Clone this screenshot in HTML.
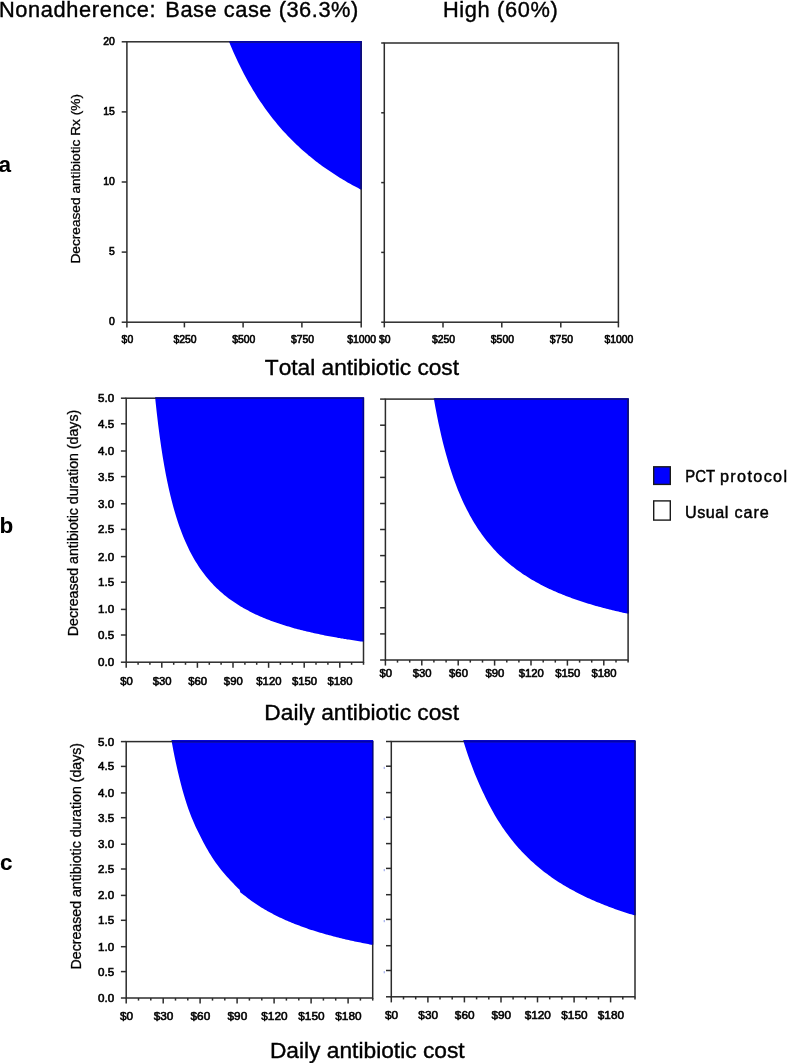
<!DOCTYPE html>
<html><head><meta charset="utf-8"><title>Figure</title>
<style>
html,body{margin:0;padding:0;background:#fff;}
body{width:787px;height:1063px;overflow:hidden;font-family:"Liberation Sans",sans-serif;}
svg{display:block;}
text{fill:#000;font-kerning:none;font-variant-ligatures:none;}
</style></head><body>
<svg width="787" height="1063" viewBox="0 0 787 1063">
<rect x="0" y="0" width="787" height="1063" fill="#fff"/>
<defs><filter id="soft" x="-5%" y="-5%" width="110%" height="110%"><feGaussianBlur stdDeviation="0.35"/></filter></defs>
<polygon points="229.1,41.8 230.6,45.4 232.1,49.0 233.6,52.4 235.1,55.7 236.6,59.0 238.1,62.2 239.6,65.3 241.1,68.3 242.6,71.3 244.1,74.2 245.6,77.0 247.1,79.8 248.6,82.4 250.1,85.1 251.6,87.6 253.1,90.2 254.6,92.6 256.1,95.0 257.6,97.4 259.1,99.7 260.6,101.9 262.1,104.1 263.6,106.3 265.1,108.4 266.6,110.5 268.1,112.5 269.6,114.5 271.1,116.5 272.6,118.4 274.1,120.3 275.6,122.1 277.1,123.9 278.6,125.7 280.1,127.5 281.6,129.2 283.1,130.9 284.6,132.5 286.1,134.1 287.6,135.7 289.1,137.3 290.6,138.8 292.1,140.3 293.6,141.8 295.1,143.3 296.6,144.7 298.1,146.1 299.6,147.5 301.1,148.9 302.6,150.2 304.1,151.5 305.6,152.8 307.1,154.1 308.6,155.4 310.1,156.6 311.6,157.8 313.1,159.0 314.6,160.2 316.1,161.4 317.6,162.5 319.1,163.7 320.6,164.8 322.1,165.9 323.6,167.0 325.1,168.0 326.6,169.1 328.1,170.1 329.6,171.1 331.1,172.1 332.6,173.1 334.1,174.1 335.6,175.1 337.1,176.0 338.6,177.0 340.1,177.9 341.6,178.8 343.1,179.7 344.6,180.6 346.1,181.5 347.6,182.4 349.1,183.2 350.6,184.1 352.1,184.9 353.6,185.7 355.1,186.5 356.6,187.3 358.1,188.1 359.6,188.9 361.1,189.7 361.2,189.7 361.6,189.7 361.6,41.3 228.8,41.3" fill="#0000ff"/>
<rect x="126.9" y="41.8" width="234.3" height="280.4" fill="none" stroke="#2c2c2c" stroke-width="1.5"/>
<rect x="229.6" y="41.1" width="132.1" height="1.3" fill="#0000b0"/>
<rect x="360.5" y="41.8" width="1.2" height="147.4" fill="#000098"/>
<rect x="384.3" y="43.0" width="234.1" height="279.2" fill="none" stroke="#2c2c2c" stroke-width="1.5"/>
<polygon points="155.2,398.2 156.7,412.3 158.2,425.0 159.7,436.5 161.2,447.1 162.7,456.7 164.2,465.5 165.7,473.7 167.2,481.2 168.7,488.2 170.2,494.7 171.7,500.8 173.2,506.5 174.7,511.8 176.2,516.8 177.7,521.5 179.2,525.9 180.7,530.1 182.2,534.0 183.7,537.7 185.2,541.3 186.7,544.6 188.2,547.8 189.7,550.9 191.2,553.8 192.7,556.5 194.2,559.2 195.7,561.7 197.2,564.1 198.7,566.4 200.2,568.7 201.7,570.8 203.2,572.8 204.7,574.8 206.2,576.7 207.7,578.5 209.2,580.3 210.7,582.0 212.2,583.6 213.7,585.2 215.2,586.7 216.7,588.2 218.2,589.6 219.7,591.0 221.2,592.3 222.7,593.6 224.2,594.9 225.7,596.1 227.2,597.2 228.7,598.4 230.2,599.5 231.7,600.6 233.2,601.6 234.7,602.6 236.2,603.6 237.7,604.6 239.2,605.5 240.7,606.4 242.2,607.3 243.7,608.2 245.2,609.0 246.7,609.8 248.2,610.6 249.7,611.4 251.2,612.2 252.7,612.9 254.2,613.7 255.7,614.4 257.2,615.1 258.7,615.7 260.2,616.4 261.7,617.1 263.2,617.7 264.7,618.3 266.2,618.9 267.7,619.5 269.2,620.1 270.7,620.7 272.2,621.2 273.7,621.8 275.2,622.3 276.7,622.8 278.2,623.3 279.7,623.8 281.2,624.3 282.7,624.8 284.2,625.3 285.7,625.7 287.2,626.2 288.7,626.6 290.2,627.1 291.7,627.5 293.2,627.9 294.7,628.4 296.2,628.8 297.7,629.2 299.2,629.6 300.7,630.0 302.2,630.3 303.7,630.7 305.2,631.1 306.7,631.4 308.2,631.8 309.7,632.1 311.2,632.5 312.7,632.8 314.2,633.2 315.7,633.5 317.2,633.8 318.7,634.1 320.2,634.4 321.7,634.8 323.2,635.1 324.7,635.4 326.2,635.7 327.7,635.9 329.2,636.2 330.7,636.5 332.2,636.8 333.7,637.1 335.2,637.3 336.7,637.6 338.2,637.9 339.7,638.1 341.2,638.4 342.7,638.6 344.2,638.9 345.7,639.1 347.2,639.4 348.7,639.6 350.2,639.8 351.7,640.1 353.2,640.3 354.7,640.5 356.2,640.7 357.7,641.0 359.2,641.2 360.7,641.4 362.2,641.6 363.5,641.8 363.9,641.8 363.9,397.3 154.9,397.3" fill="#0000ff"/>
<rect x="126.2" y="398.2" width="237.3" height="264.0" fill="none" stroke="#2c2c2c" stroke-width="1.5"/>
<rect x="155.7" y="397.5" width="208.3" height="1.3" fill="#0000b0"/>
<rect x="362.8" y="398.2" width="1.2" height="243.1" fill="#000098"/>
<polygon points="433.9,399.1 435.4,407.4 436.9,415.3 438.4,422.7 439.9,429.6 441.4,436.2 442.9,442.4 444.4,448.3 445.9,453.8 447.4,459.1 448.9,464.2 450.4,469.0 451.9,473.5 453.4,477.9 454.9,482.1 456.4,486.1 457.9,489.9 459.4,493.5 460.9,497.1 462.4,500.4 463.9,503.7 465.4,506.8 466.9,509.8 468.4,512.6 469.9,515.4 471.4,518.1 472.9,520.7 474.4,523.2 475.9,525.6 477.4,527.9 478.9,530.2 480.4,532.3 481.9,534.5 483.4,536.5 484.9,538.5 486.4,540.4 487.9,542.3 489.4,544.1 490.9,545.8 492.4,547.5 493.9,549.2 495.4,550.8 496.9,552.4 498.4,553.9 499.9,555.4 501.4,556.8 502.9,558.2 504.4,559.6 505.9,560.9 507.4,562.2 508.9,563.5 510.4,564.7 511.9,565.9 513.4,567.1 514.9,568.3 516.4,569.4 517.9,570.5 519.4,571.6 520.9,572.6 522.4,573.7 523.9,574.7 525.4,575.6 526.9,576.6 528.4,577.6 529.9,578.5 531.4,579.4 532.9,580.3 534.4,581.1 535.9,582.0 537.4,582.8 538.9,583.6 540.4,584.4 541.9,585.2 543.4,586.0 544.9,586.7 546.4,587.5 547.9,588.2 549.4,588.9 550.9,589.6 552.4,590.3 553.9,591.0 555.4,591.6 556.9,592.3 558.4,592.9 559.9,593.5 561.4,594.1 562.9,594.8 564.4,595.3 565.9,595.9 567.4,596.5 568.9,597.1 570.4,597.6 571.9,598.2 573.4,598.7 574.9,599.3 576.4,599.8 577.9,600.3 579.4,600.8 580.9,601.3 582.4,601.8 583.9,602.3 585.4,602.7 586.9,603.2 588.4,603.7 589.9,604.1 591.4,604.6 592.9,605.0 594.4,605.4 595.9,605.9 597.4,606.3 598.9,606.7 600.4,607.1 601.9,607.5 603.4,607.9 604.9,608.3 606.4,608.7 607.9,609.1 609.4,609.5 610.9,609.8 612.4,610.2 613.9,610.6 615.4,610.9 616.9,611.3 618.4,611.6 619.9,612.0 621.4,612.3 622.9,612.7 624.4,613.0 625.9,613.3 627.4,613.6 628.1,613.8 628.5,613.8 628.5,398.2 433.6,398.2" fill="#0000ff"/>
<rect x="385.4" y="399.1" width="242.7" height="260.9" fill="none" stroke="#2c2c2c" stroke-width="1.5"/>
<rect x="434.4" y="398.4" width="194.2" height="1.3" fill="#0000b0"/>
<rect x="627.4" y="399.1" width="1.2" height="214.2" fill="#000098"/>
<polygon points="171.7,741.6 173.2,749.7 174.7,757.2 176.2,764.3 177.7,771.0 179.2,777.3 180.7,783.2 182.2,788.9 183.7,794.2 185.2,799.2 186.7,804.0 188.2,808.5 189.7,812.6 191.2,816.4 192.7,820.1 194.2,823.6 195.7,826.9 197.2,830.1 198.7,833.1 200.2,836.0 201.7,839.1 203.2,842.0 204.7,844.8 206.2,847.5 207.7,850.1 209.2,852.7 210.7,855.1 212.2,857.4 213.7,859.7 215.2,861.9 216.7,864.0 218.2,866.0 219.7,868.0 221.2,869.9 222.7,871.7 224.2,873.5 225.7,875.3 227.2,876.9 228.7,878.6 230.2,880.2 231.7,881.7 233.2,883.3 234.7,884.9 236.2,886.4 237.7,887.9 239.6,889.7 240.4,892.5 242.2,893.7 243.7,894.9 245.2,896.1 246.7,897.3 248.2,898.5 249.7,899.6 251.2,900.7 252.7,901.8 254.2,902.8 255.7,903.8 257.2,904.8 258.7,905.8 260.2,906.7 261.7,907.7 263.2,908.6 264.7,909.5 266.2,910.3 267.7,911.2 269.2,912.0 270.7,912.8 272.2,913.6 273.7,914.4 275.2,915.2 276.7,915.9 278.2,916.7 279.7,917.4 281.2,918.1 282.7,918.8 284.2,919.5 285.7,920.2 287.2,920.8 288.7,921.5 290.2,922.1 291.7,922.7 293.2,923.3 294.7,923.9 296.2,924.5 297.7,925.1 299.2,925.6 300.7,926.2 302.2,926.8 303.7,927.3 305.2,927.8 306.7,928.3 308.2,928.9 309.7,929.4 311.2,929.9 312.7,930.3 314.2,930.8 315.7,931.3 317.2,931.8 318.7,932.2 320.2,932.7 321.7,933.1 323.2,933.5 324.7,934.0 326.2,934.4 327.7,934.8 329.2,935.2 330.7,935.6 332.2,936.0 333.7,936.4 335.2,936.8 336.7,937.2 338.2,937.6 339.7,937.9 341.2,938.3 342.7,938.7 344.2,939.0 345.7,939.4 347.2,939.7 348.7,940.1 350.2,940.4 351.7,940.7 353.2,941.1 354.7,941.4 356.2,941.7 357.7,942.0 359.2,942.3 360.7,942.6 362.2,942.9 363.7,943.2 365.2,943.5 366.7,943.8 368.2,944.1 369.7,944.4 371.2,944.7 372.7,945.0 373.1,945.0 373.1,740.0 171.4,740.0" fill="#0000ff"/>
<rect x="126.2" y="741.6" width="246.5" height="256.4" fill="none" stroke="#2c2c2c" stroke-width="1.5"/>
<rect x="172.2" y="740.9" width="201.0" height="1.3" fill="#0000b0"/>
<rect x="372.0" y="741.6" width="1.2" height="202.9" fill="#000098"/>
<polygon points="463.5,741.5 465.1,746.6 466.7,751.5 468.3,756.2 469.9,760.8 471.5,765.1 473.1,769.3 474.7,773.4 476.3,777.3 477.9,781.0 479.4,784.6 481.0,788.1 482.6,791.5 484.2,794.8 485.7,797.9 487.2,801.0 488.7,803.9 490.2,806.8 491.7,809.6 493.2,812.3 494.7,814.9 496.2,817.4 497.7,819.9 499.2,822.3 500.7,824.6 502.2,826.9 503.7,829.1 505.2,831.2 506.7,833.3 508.2,835.3 509.7,837.3 511.2,839.2 512.7,841.1 514.2,842.9 515.7,844.7 517.2,846.5 518.7,848.2 520.2,849.8 521.7,851.4 523.2,853.0 524.7,854.6 526.2,856.1 527.7,857.6 529.2,859.0 530.7,860.4 532.2,861.8 533.7,863.1 535.2,864.5 536.7,865.8 538.2,867.0 539.7,868.3 541.2,869.5 542.7,870.7 544.2,871.9 545.7,873.0 547.2,874.1 548.7,875.2 550.2,876.3 551.7,877.4 553.2,878.4 554.7,879.4 556.2,880.4 557.7,881.4 559.2,882.4 560.7,883.3 562.2,884.3 563.7,885.2 565.2,886.1 566.7,886.9 568.2,887.8 569.7,888.7 571.2,889.5 572.7,890.3 574.2,891.1 575.7,891.9 577.2,892.7 578.7,893.5 580.2,894.3 581.7,895.0 583.2,895.7 584.7,896.5 586.2,897.2 587.7,897.9 589.2,898.6 590.7,899.2 592.2,899.9 593.7,900.6 595.2,901.2 596.7,901.9 598.2,902.5 599.7,903.1 601.2,903.7 602.7,904.3 604.2,904.9 605.7,905.5 607.2,906.1 608.7,906.7 610.2,907.2 611.7,907.8 613.2,908.3 614.7,908.9 616.2,909.4 617.7,909.9 619.2,910.4 620.7,910.9 622.2,911.5 623.7,911.9 625.2,912.4 626.7,912.9 628.2,913.4 629.7,913.9 631.2,914.3 632.7,914.8 634.2,915.3 635.0,915.5 635.4,915.5 635.4,739.9 463.2,739.9" fill="#0000ff"/>
<rect x="391.3" y="741.5" width="243.7" height="255.3" fill="none" stroke="#2c2c2c" stroke-width="1.5"/>
<rect x="464.0" y="740.8" width="171.5" height="1.3" fill="#0000b0"/>
<rect x="634.3" y="741.5" width="1.2" height="173.5" fill="#000098"/>
<line x1="121.7" y1="322.2" x2="126.9" y2="322.2" stroke="#2c2c2c" stroke-width="1.5"/>
<line x1="121.7" y1="252.1" x2="126.9" y2="252.1" stroke="#2c2c2c" stroke-width="1.5"/>
<line x1="121.7" y1="182.0" x2="126.9" y2="182.0" stroke="#2c2c2c" stroke-width="1.5"/>
<line x1="121.7" y1="111.9" x2="126.9" y2="111.9" stroke="#2c2c2c" stroke-width="1.5"/>
<line x1="121.7" y1="41.8" x2="126.9" y2="41.8" stroke="#2c2c2c" stroke-width="1.5"/>
<line x1="126.9" y1="322.2" x2="126.9" y2="327.4" stroke="#2c2c2c" stroke-width="1.5"/>
<line x1="184.4" y1="322.2" x2="184.4" y2="327.4" stroke="#2c2c2c" stroke-width="1.5"/>
<line x1="243.1" y1="322.2" x2="243.1" y2="327.4" stroke="#2c2c2c" stroke-width="1.5"/>
<line x1="301.9" y1="322.2" x2="301.9" y2="327.4" stroke="#2c2c2c" stroke-width="1.5"/>
<line x1="361.2" y1="322.2" x2="361.2" y2="327.4" stroke="#2c2c2c" stroke-width="1.5"/>
<line x1="381.2" y1="322.2" x2="384.3" y2="322.2" stroke="#2c2c2c" stroke-width="1.5"/>
<line x1="381.2" y1="252.4" x2="384.3" y2="252.4" stroke="#2c2c2c" stroke-width="1.5"/>
<line x1="381.2" y1="182.6" x2="384.3" y2="182.6" stroke="#2c2c2c" stroke-width="1.5"/>
<line x1="381.2" y1="112.8" x2="384.3" y2="112.8" stroke="#2c2c2c" stroke-width="1.5"/>
<line x1="381.2" y1="43.0" x2="384.3" y2="43.0" stroke="#2c2c2c" stroke-width="1.5"/>
<line x1="384.3" y1="322.2" x2="384.3" y2="327.4" stroke="#2c2c2c" stroke-width="1.5"/>
<line x1="443.0" y1="322.2" x2="443.0" y2="327.4" stroke="#2c2c2c" stroke-width="1.5"/>
<line x1="501.8" y1="322.2" x2="501.8" y2="327.4" stroke="#2c2c2c" stroke-width="1.5"/>
<line x1="560.8" y1="322.2" x2="560.8" y2="327.4" stroke="#2c2c2c" stroke-width="1.5"/>
<line x1="618.4" y1="322.2" x2="618.4" y2="327.4" stroke="#2c2c2c" stroke-width="1.5"/>
<line x1="120.9" y1="662.2" x2="126.2" y2="662.2" stroke="#2c2c2c" stroke-width="1.5"/>
<line x1="120.9" y1="635.0" x2="126.2" y2="635.0" stroke="#2c2c2c" stroke-width="1.5"/>
<line x1="120.9" y1="609.4" x2="126.2" y2="609.4" stroke="#2c2c2c" stroke-width="1.5"/>
<line x1="120.9" y1="582.2" x2="126.2" y2="582.2" stroke="#2c2c2c" stroke-width="1.5"/>
<line x1="120.9" y1="556.6" x2="126.2" y2="556.6" stroke="#2c2c2c" stroke-width="1.5"/>
<line x1="120.9" y1="529.4" x2="126.2" y2="529.4" stroke="#2c2c2c" stroke-width="1.5"/>
<line x1="120.9" y1="503.8" x2="126.2" y2="503.8" stroke="#2c2c2c" stroke-width="1.5"/>
<line x1="120.9" y1="476.6" x2="126.2" y2="476.6" stroke="#2c2c2c" stroke-width="1.5"/>
<line x1="120.9" y1="451.0" x2="126.2" y2="451.0" stroke="#2c2c2c" stroke-width="1.5"/>
<line x1="120.9" y1="423.8" x2="126.2" y2="423.8" stroke="#2c2c2c" stroke-width="1.5"/>
<line x1="120.9" y1="398.2" x2="126.2" y2="398.2" stroke="#2c2c2c" stroke-width="1.5"/>
<line x1="126.2" y1="662.2" x2="126.2" y2="667.8" stroke="#2c2c2c" stroke-width="1.5"/>
<line x1="138.1" y1="662.2" x2="138.1" y2="664.8" stroke="#2c2c2c" stroke-width="1.5"/>
<line x1="149.9" y1="662.2" x2="149.9" y2="664.8" stroke="#2c2c2c" stroke-width="1.5"/>
<line x1="161.8" y1="662.2" x2="161.8" y2="667.8" stroke="#2c2c2c" stroke-width="1.5"/>
<line x1="173.7" y1="662.2" x2="173.7" y2="664.8" stroke="#2c2c2c" stroke-width="1.5"/>
<line x1="185.5" y1="662.2" x2="185.5" y2="664.8" stroke="#2c2c2c" stroke-width="1.5"/>
<line x1="197.4" y1="662.2" x2="197.4" y2="667.8" stroke="#2c2c2c" stroke-width="1.5"/>
<line x1="209.3" y1="662.2" x2="209.3" y2="664.8" stroke="#2c2c2c" stroke-width="1.5"/>
<line x1="221.1" y1="662.2" x2="221.1" y2="664.8" stroke="#2c2c2c" stroke-width="1.5"/>
<line x1="233.0" y1="662.2" x2="233.0" y2="667.8" stroke="#2c2c2c" stroke-width="1.5"/>
<line x1="244.9" y1="662.2" x2="244.9" y2="664.8" stroke="#2c2c2c" stroke-width="1.5"/>
<line x1="256.7" y1="662.2" x2="256.7" y2="664.8" stroke="#2c2c2c" stroke-width="1.5"/>
<line x1="268.6" y1="662.2" x2="268.6" y2="667.8" stroke="#2c2c2c" stroke-width="1.5"/>
<line x1="280.4" y1="662.2" x2="280.4" y2="664.8" stroke="#2c2c2c" stroke-width="1.5"/>
<line x1="292.3" y1="662.2" x2="292.3" y2="664.8" stroke="#2c2c2c" stroke-width="1.5"/>
<line x1="304.2" y1="662.2" x2="304.2" y2="667.8" stroke="#2c2c2c" stroke-width="1.5"/>
<line x1="316.0" y1="662.2" x2="316.0" y2="664.8" stroke="#2c2c2c" stroke-width="1.5"/>
<line x1="327.9" y1="662.2" x2="327.9" y2="664.8" stroke="#2c2c2c" stroke-width="1.5"/>
<line x1="339.8" y1="662.2" x2="339.8" y2="667.8" stroke="#2c2c2c" stroke-width="1.5"/>
<line x1="351.6" y1="662.2" x2="351.6" y2="664.8" stroke="#2c2c2c" stroke-width="1.5"/>
<line x1="363.5" y1="662.2" x2="363.5" y2="664.8" stroke="#2c2c2c" stroke-width="1.5"/>
<line x1="380.1" y1="660.0" x2="385.4" y2="660.0" stroke="#2c2c2c" stroke-width="1.5"/>
<line x1="380.1" y1="633.9" x2="385.4" y2="633.9" stroke="#2c2c2c" stroke-width="1.5"/>
<line x1="380.1" y1="607.8" x2="385.4" y2="607.8" stroke="#2c2c2c" stroke-width="1.5"/>
<line x1="380.1" y1="581.7" x2="385.4" y2="581.7" stroke="#2c2c2c" stroke-width="1.5"/>
<line x1="380.1" y1="555.6" x2="385.4" y2="555.6" stroke="#2c2c2c" stroke-width="1.5"/>
<line x1="380.1" y1="529.5" x2="385.4" y2="529.5" stroke="#2c2c2c" stroke-width="1.5"/>
<line x1="380.1" y1="503.5" x2="385.4" y2="503.5" stroke="#2c2c2c" stroke-width="1.5"/>
<line x1="380.1" y1="477.4" x2="385.4" y2="477.4" stroke="#2c2c2c" stroke-width="1.5"/>
<line x1="380.1" y1="451.3" x2="385.4" y2="451.3" stroke="#2c2c2c" stroke-width="1.5"/>
<line x1="380.1" y1="425.2" x2="385.4" y2="425.2" stroke="#2c2c2c" stroke-width="1.5"/>
<line x1="380.1" y1="399.1" x2="385.4" y2="399.1" stroke="#2c2c2c" stroke-width="1.5"/>
<line x1="385.4" y1="660.0" x2="385.4" y2="665.6" stroke="#2c2c2c" stroke-width="1.5"/>
<line x1="397.5" y1="660.0" x2="397.5" y2="662.6" stroke="#2c2c2c" stroke-width="1.5"/>
<line x1="409.7" y1="660.0" x2="409.7" y2="662.6" stroke="#2c2c2c" stroke-width="1.5"/>
<line x1="421.8" y1="660.0" x2="421.8" y2="665.6" stroke="#2c2c2c" stroke-width="1.5"/>
<line x1="433.9" y1="660.0" x2="433.9" y2="662.6" stroke="#2c2c2c" stroke-width="1.5"/>
<line x1="446.1" y1="660.0" x2="446.1" y2="662.6" stroke="#2c2c2c" stroke-width="1.5"/>
<line x1="458.2" y1="660.0" x2="458.2" y2="665.6" stroke="#2c2c2c" stroke-width="1.5"/>
<line x1="470.3" y1="660.0" x2="470.3" y2="662.6" stroke="#2c2c2c" stroke-width="1.5"/>
<line x1="482.5" y1="660.0" x2="482.5" y2="662.6" stroke="#2c2c2c" stroke-width="1.5"/>
<line x1="494.6" y1="660.0" x2="494.6" y2="665.6" stroke="#2c2c2c" stroke-width="1.5"/>
<line x1="506.8" y1="660.0" x2="506.8" y2="662.6" stroke="#2c2c2c" stroke-width="1.5"/>
<line x1="518.9" y1="660.0" x2="518.9" y2="662.6" stroke="#2c2c2c" stroke-width="1.5"/>
<line x1="531.0" y1="660.0" x2="531.0" y2="665.6" stroke="#2c2c2c" stroke-width="1.5"/>
<line x1="543.2" y1="660.0" x2="543.2" y2="662.6" stroke="#2c2c2c" stroke-width="1.5"/>
<line x1="555.3" y1="660.0" x2="555.3" y2="662.6" stroke="#2c2c2c" stroke-width="1.5"/>
<line x1="567.4" y1="660.0" x2="567.4" y2="665.6" stroke="#2c2c2c" stroke-width="1.5"/>
<line x1="579.6" y1="660.0" x2="579.6" y2="662.6" stroke="#2c2c2c" stroke-width="1.5"/>
<line x1="591.7" y1="660.0" x2="591.7" y2="662.6" stroke="#2c2c2c" stroke-width="1.5"/>
<line x1="603.8" y1="660.0" x2="603.8" y2="665.6" stroke="#2c2c2c" stroke-width="1.5"/>
<line x1="616.0" y1="660.0" x2="616.0" y2="662.6" stroke="#2c2c2c" stroke-width="1.5"/>
<line x1="628.1" y1="660.0" x2="628.1" y2="662.6" stroke="#2c2c2c" stroke-width="1.5"/>
<line x1="120.9" y1="998.0" x2="126.2" y2="998.0" stroke="#2c2c2c" stroke-width="1.5"/>
<line x1="120.9" y1="971.6" x2="126.2" y2="971.6" stroke="#2c2c2c" stroke-width="1.5"/>
<line x1="120.9" y1="946.7" x2="126.2" y2="946.7" stroke="#2c2c2c" stroke-width="1.5"/>
<line x1="120.9" y1="920.3" x2="126.2" y2="920.3" stroke="#2c2c2c" stroke-width="1.5"/>
<line x1="120.9" y1="895.4" x2="126.2" y2="895.4" stroke="#2c2c2c" stroke-width="1.5"/>
<line x1="120.9" y1="869.0" x2="126.2" y2="869.0" stroke="#2c2c2c" stroke-width="1.5"/>
<line x1="120.9" y1="844.2" x2="126.2" y2="844.2" stroke="#2c2c2c" stroke-width="1.5"/>
<line x1="120.9" y1="817.7" x2="126.2" y2="817.7" stroke="#2c2c2c" stroke-width="1.5"/>
<line x1="120.9" y1="792.9" x2="126.2" y2="792.9" stroke="#2c2c2c" stroke-width="1.5"/>
<line x1="120.9" y1="766.4" x2="126.2" y2="766.4" stroke="#2c2c2c" stroke-width="1.5"/>
<line x1="120.9" y1="741.6" x2="126.2" y2="741.6" stroke="#2c2c2c" stroke-width="1.5"/>
<line x1="126.2" y1="998.0" x2="126.2" y2="1003.6" stroke="#2c2c2c" stroke-width="1.5"/>
<line x1="138.5" y1="998.0" x2="138.5" y2="1000.6" stroke="#2c2c2c" stroke-width="1.5"/>
<line x1="150.8" y1="998.0" x2="150.8" y2="1000.6" stroke="#2c2c2c" stroke-width="1.5"/>
<line x1="163.2" y1="998.0" x2="163.2" y2="1003.6" stroke="#2c2c2c" stroke-width="1.5"/>
<line x1="175.5" y1="998.0" x2="175.5" y2="1000.6" stroke="#2c2c2c" stroke-width="1.5"/>
<line x1="187.8" y1="998.0" x2="187.8" y2="1000.6" stroke="#2c2c2c" stroke-width="1.5"/>
<line x1="200.1" y1="998.0" x2="200.1" y2="1003.6" stroke="#2c2c2c" stroke-width="1.5"/>
<line x1="212.5" y1="998.0" x2="212.5" y2="1000.6" stroke="#2c2c2c" stroke-width="1.5"/>
<line x1="224.8" y1="998.0" x2="224.8" y2="1000.6" stroke="#2c2c2c" stroke-width="1.5"/>
<line x1="237.1" y1="998.0" x2="237.1" y2="1003.6" stroke="#2c2c2c" stroke-width="1.5"/>
<line x1="249.4" y1="998.0" x2="249.4" y2="1000.6" stroke="#2c2c2c" stroke-width="1.5"/>
<line x1="261.8" y1="998.0" x2="261.8" y2="1000.6" stroke="#2c2c2c" stroke-width="1.5"/>
<line x1="274.1" y1="998.0" x2="274.1" y2="1003.6" stroke="#2c2c2c" stroke-width="1.5"/>
<line x1="286.4" y1="998.0" x2="286.4" y2="1000.6" stroke="#2c2c2c" stroke-width="1.5"/>
<line x1="298.8" y1="998.0" x2="298.8" y2="1000.6" stroke="#2c2c2c" stroke-width="1.5"/>
<line x1="311.1" y1="998.0" x2="311.1" y2="1003.6" stroke="#2c2c2c" stroke-width="1.5"/>
<line x1="323.4" y1="998.0" x2="323.4" y2="1000.6" stroke="#2c2c2c" stroke-width="1.5"/>
<line x1="335.7" y1="998.0" x2="335.7" y2="1000.6" stroke="#2c2c2c" stroke-width="1.5"/>
<line x1="348.1" y1="998.0" x2="348.1" y2="1003.6" stroke="#2c2c2c" stroke-width="1.5"/>
<line x1="360.4" y1="998.0" x2="360.4" y2="1000.6" stroke="#2c2c2c" stroke-width="1.5"/>
<line x1="372.7" y1="998.0" x2="372.7" y2="1000.6" stroke="#2c2c2c" stroke-width="1.5"/>
<line x1="386.0" y1="996.8" x2="391.3" y2="996.8" stroke="#2c2c2c" stroke-width="1.5"/>
<line x1="386.0" y1="970.5" x2="391.3" y2="970.5" stroke="#2c2c2c" stroke-width="1.5"/>
<rect x="383.7" y="971.1" width="1.1" height="2.2" fill="#9aa6ea"/>
<line x1="386.0" y1="945.7" x2="391.3" y2="945.7" stroke="#2c2c2c" stroke-width="1.5"/>
<line x1="386.0" y1="919.4" x2="391.3" y2="919.4" stroke="#2c2c2c" stroke-width="1.5"/>
<rect x="383.7" y="920.0" width="1.1" height="2.2" fill="#9aa6ea"/>
<line x1="386.0" y1="894.7" x2="391.3" y2="894.7" stroke="#2c2c2c" stroke-width="1.5"/>
<line x1="386.0" y1="868.4" x2="391.3" y2="868.4" stroke="#2c2c2c" stroke-width="1.5"/>
<rect x="383.7" y="869.0" width="1.1" height="2.2" fill="#9aa6ea"/>
<line x1="386.0" y1="843.6" x2="391.3" y2="843.6" stroke="#2c2c2c" stroke-width="1.5"/>
<line x1="386.0" y1="817.3" x2="391.3" y2="817.3" stroke="#2c2c2c" stroke-width="1.5"/>
<rect x="383.7" y="817.9" width="1.1" height="2.2" fill="#9aa6ea"/>
<line x1="386.0" y1="792.6" x2="391.3" y2="792.6" stroke="#2c2c2c" stroke-width="1.5"/>
<line x1="386.0" y1="766.2" x2="391.3" y2="766.2" stroke="#2c2c2c" stroke-width="1.5"/>
<rect x="383.7" y="766.8" width="1.1" height="2.2" fill="#9aa6ea"/>
<line x1="386.0" y1="741.5" x2="391.3" y2="741.5" stroke="#2c2c2c" stroke-width="1.5"/>
<line x1="391.3" y1="996.8" x2="391.3" y2="1002.4" stroke="#2c2c2c" stroke-width="1.5"/>
<line x1="403.5" y1="996.8" x2="403.5" y2="999.4" stroke="#2c2c2c" stroke-width="1.5"/>
<line x1="415.7" y1="996.8" x2="415.7" y2="999.4" stroke="#2c2c2c" stroke-width="1.5"/>
<line x1="427.9" y1="996.8" x2="427.9" y2="1002.4" stroke="#2c2c2c" stroke-width="1.5"/>
<line x1="440.0" y1="996.8" x2="440.0" y2="999.4" stroke="#2c2c2c" stroke-width="1.5"/>
<line x1="452.2" y1="996.8" x2="452.2" y2="999.4" stroke="#2c2c2c" stroke-width="1.5"/>
<line x1="464.4" y1="996.8" x2="464.4" y2="1002.4" stroke="#2c2c2c" stroke-width="1.5"/>
<line x1="476.6" y1="996.8" x2="476.6" y2="999.4" stroke="#2c2c2c" stroke-width="1.5"/>
<line x1="488.8" y1="996.8" x2="488.8" y2="999.4" stroke="#2c2c2c" stroke-width="1.5"/>
<line x1="501.0" y1="996.8" x2="501.0" y2="1002.4" stroke="#2c2c2c" stroke-width="1.5"/>
<line x1="513.1" y1="996.8" x2="513.1" y2="999.4" stroke="#2c2c2c" stroke-width="1.5"/>
<line x1="525.3" y1="996.8" x2="525.3" y2="999.4" stroke="#2c2c2c" stroke-width="1.5"/>
<line x1="537.5" y1="996.8" x2="537.5" y2="1002.4" stroke="#2c2c2c" stroke-width="1.5"/>
<line x1="549.7" y1="996.8" x2="549.7" y2="999.4" stroke="#2c2c2c" stroke-width="1.5"/>
<line x1="561.9" y1="996.8" x2="561.9" y2="999.4" stroke="#2c2c2c" stroke-width="1.5"/>
<line x1="574.1" y1="996.8" x2="574.1" y2="1002.4" stroke="#2c2c2c" stroke-width="1.5"/>
<line x1="586.3" y1="996.8" x2="586.3" y2="999.4" stroke="#2c2c2c" stroke-width="1.5"/>
<line x1="598.4" y1="996.8" x2="598.4" y2="999.4" stroke="#2c2c2c" stroke-width="1.5"/>
<line x1="610.6" y1="996.8" x2="610.6" y2="1002.4" stroke="#2c2c2c" stroke-width="1.5"/>
<line x1="622.8" y1="996.8" x2="622.8" y2="999.4" stroke="#2c2c2c" stroke-width="1.5"/>
<line x1="635.0" y1="996.8" x2="635.0" y2="999.4" stroke="#2c2c2c" stroke-width="1.5"/>
<rect x="653.7" y="466.8" width="16.6" height="17.6" fill="#0000ff" stroke="#1a1a1a" stroke-width="1.4"/>
<rect x="653.7" y="500.9" width="16.6" height="19.2" fill="#fff" stroke="#1a1a1a" stroke-width="1.4"/>
<g filter="url(#soft)">
<text x="114.8" y="325.2" font-size="10.4" text-anchor="end" font-weight="normal" stroke="#000" stroke-width="0.6" font-family="Liberation Sans, sans-serif" >0</text>
<text x="114.8" y="255.1" font-size="10.4" text-anchor="end" font-weight="normal" stroke="#000" stroke-width="0.6" font-family="Liberation Sans, sans-serif" >5</text>
<text x="114.8" y="185.0" font-size="10.4" text-anchor="end" font-weight="normal" stroke="#000" stroke-width="0.6" font-family="Liberation Sans, sans-serif" >10</text>
<text x="114.8" y="114.9" font-size="10.4" text-anchor="end" font-weight="normal" stroke="#000" stroke-width="0.6" font-family="Liberation Sans, sans-serif" >15</text>
<text x="114.8" y="44.8" font-size="10.4" text-anchor="end" font-weight="normal" stroke="#000" stroke-width="0.6" font-family="Liberation Sans, sans-serif" >20</text>
<text x="127.4" y="342.5" font-size="10.4" text-anchor="middle" font-weight="normal" stroke="#000" stroke-width="0.6" font-family="Liberation Sans, sans-serif" >$0</text>
<text x="185.0" y="342.5" font-size="10.4" text-anchor="middle" font-weight="normal" stroke="#000" stroke-width="0.6" font-family="Liberation Sans, sans-serif" >$250</text>
<text x="243.7" y="342.5" font-size="10.4" text-anchor="middle" font-weight="normal" stroke="#000" stroke-width="0.6" font-family="Liberation Sans, sans-serif" >$500</text>
<text x="302.5" y="342.5" font-size="10.4" text-anchor="middle" font-weight="normal" stroke="#000" stroke-width="0.6" font-family="Liberation Sans, sans-serif" >$750</text>
<text x="361.7" y="342.5" font-size="10.4" text-anchor="middle" font-weight="normal" stroke="#000" stroke-width="0.6" font-family="Liberation Sans, sans-serif" >$1000</text>
<text x="384.8" y="342.5" font-size="10.4" text-anchor="middle" font-weight="normal" stroke="#000" stroke-width="0.6" font-family="Liberation Sans, sans-serif" >$0</text>
<text x="443.6" y="342.5" font-size="10.4" text-anchor="middle" font-weight="normal" stroke="#000" stroke-width="0.6" font-family="Liberation Sans, sans-serif" >$250</text>
<text x="502.4" y="342.5" font-size="10.4" text-anchor="middle" font-weight="normal" stroke="#000" stroke-width="0.6" font-family="Liberation Sans, sans-serif" >$500</text>
<text x="561.4" y="342.5" font-size="10.4" text-anchor="middle" font-weight="normal" stroke="#000" stroke-width="0.6" font-family="Liberation Sans, sans-serif" >$750</text>
<text x="618.9" y="342.5" font-size="10.4" text-anchor="middle" font-weight="normal" stroke="#000" stroke-width="0.6" font-family="Liberation Sans, sans-serif" >$1000</text>
<text x="114.2" y="666.2" font-size="11.6" text-anchor="end" font-weight="normal" stroke="#000" stroke-width="0.6" font-family="Liberation Sans, sans-serif" >0.0</text>
<text x="114.2" y="639.0" font-size="11.6" text-anchor="end" font-weight="normal" stroke="#000" stroke-width="0.6" font-family="Liberation Sans, sans-serif" >0.5</text>
<text x="114.2" y="613.4" font-size="11.6" text-anchor="end" font-weight="normal" stroke="#000" stroke-width="0.6" font-family="Liberation Sans, sans-serif" >1.0</text>
<text x="114.2" y="586.2" font-size="11.6" text-anchor="end" font-weight="normal" stroke="#000" stroke-width="0.6" font-family="Liberation Sans, sans-serif" >1.5</text>
<text x="114.2" y="560.6" font-size="11.6" text-anchor="end" font-weight="normal" stroke="#000" stroke-width="0.6" font-family="Liberation Sans, sans-serif" >2.0</text>
<text x="114.2" y="533.4" font-size="11.6" text-anchor="end" font-weight="normal" stroke="#000" stroke-width="0.6" font-family="Liberation Sans, sans-serif" >2.5</text>
<text x="114.2" y="507.8" font-size="11.6" text-anchor="end" font-weight="normal" stroke="#000" stroke-width="0.6" font-family="Liberation Sans, sans-serif" >3.0</text>
<text x="114.2" y="480.6" font-size="11.6" text-anchor="end" font-weight="normal" stroke="#000" stroke-width="0.6" font-family="Liberation Sans, sans-serif" >3.5</text>
<text x="114.2" y="455.0" font-size="11.6" text-anchor="end" font-weight="normal" stroke="#000" stroke-width="0.6" font-family="Liberation Sans, sans-serif" >4.0</text>
<text x="114.2" y="427.8" font-size="11.6" text-anchor="end" font-weight="normal" stroke="#000" stroke-width="0.6" font-family="Liberation Sans, sans-serif" >4.5</text>
<text x="114.2" y="402.2" font-size="11.6" text-anchor="end" font-weight="normal" stroke="#000" stroke-width="0.6" font-family="Liberation Sans, sans-serif" >5.0</text>
<text x="126.5" y="684.9" font-size="11.3" text-anchor="middle" font-weight="normal" stroke="#000" stroke-width="0.6" font-family="Liberation Sans, sans-serif" >$0</text>
<text x="162.1" y="684.9" font-size="11.3" text-anchor="middle" font-weight="normal" stroke="#000" stroke-width="0.6" font-family="Liberation Sans, sans-serif" >$30</text>
<text x="197.7" y="684.9" font-size="11.3" text-anchor="middle" font-weight="normal" stroke="#000" stroke-width="0.6" font-family="Liberation Sans, sans-serif" >$60</text>
<text x="233.3" y="684.9" font-size="11.3" text-anchor="middle" font-weight="normal" stroke="#000" stroke-width="0.6" font-family="Liberation Sans, sans-serif" >$90</text>
<text x="268.9" y="684.9" font-size="11.3" text-anchor="middle" font-weight="normal" stroke="#000" stroke-width="0.6" font-family="Liberation Sans, sans-serif" >$120</text>
<text x="304.5" y="684.9" font-size="11.3" text-anchor="middle" font-weight="normal" stroke="#000" stroke-width="0.6" font-family="Liberation Sans, sans-serif" >$150</text>
<text x="340.1" y="684.9" font-size="11.3" text-anchor="middle" font-weight="normal" stroke="#000" stroke-width="0.6" font-family="Liberation Sans, sans-serif" >$180</text>
<text x="385.7" y="676.7" font-size="11.3" text-anchor="middle" font-weight="normal" stroke="#000" stroke-width="0.6" font-family="Liberation Sans, sans-serif" >$0</text>
<text x="422.1" y="676.7" font-size="11.3" text-anchor="middle" font-weight="normal" stroke="#000" stroke-width="0.6" font-family="Liberation Sans, sans-serif" >$30</text>
<text x="458.5" y="676.7" font-size="11.3" text-anchor="middle" font-weight="normal" stroke="#000" stroke-width="0.6" font-family="Liberation Sans, sans-serif" >$60</text>
<text x="494.9" y="676.7" font-size="11.3" text-anchor="middle" font-weight="normal" stroke="#000" stroke-width="0.6" font-family="Liberation Sans, sans-serif" >$90</text>
<text x="531.3" y="676.7" font-size="11.3" text-anchor="middle" font-weight="normal" stroke="#000" stroke-width="0.6" font-family="Liberation Sans, sans-serif" >$120</text>
<text x="567.7" y="676.7" font-size="11.3" text-anchor="middle" font-weight="normal" stroke="#000" stroke-width="0.6" font-family="Liberation Sans, sans-serif" >$150</text>
<text x="604.1" y="676.7" font-size="11.3" text-anchor="middle" font-weight="normal" stroke="#000" stroke-width="0.6" font-family="Liberation Sans, sans-serif" >$180</text>
<text x="114.2" y="1002.0" font-size="11.6" text-anchor="end" font-weight="normal" stroke="#000" stroke-width="0.6" font-family="Liberation Sans, sans-serif" >0.0</text>
<text x="114.2" y="975.6" font-size="11.6" text-anchor="end" font-weight="normal" stroke="#000" stroke-width="0.6" font-family="Liberation Sans, sans-serif" >0.5</text>
<text x="114.2" y="950.7" font-size="11.6" text-anchor="end" font-weight="normal" stroke="#000" stroke-width="0.6" font-family="Liberation Sans, sans-serif" >1.0</text>
<text x="114.2" y="924.3" font-size="11.6" text-anchor="end" font-weight="normal" stroke="#000" stroke-width="0.6" font-family="Liberation Sans, sans-serif" >1.5</text>
<text x="114.2" y="899.4" font-size="11.6" text-anchor="end" font-weight="normal" stroke="#000" stroke-width="0.6" font-family="Liberation Sans, sans-serif" >2.0</text>
<text x="114.2" y="873.0" font-size="11.6" text-anchor="end" font-weight="normal" stroke="#000" stroke-width="0.6" font-family="Liberation Sans, sans-serif" >2.5</text>
<text x="114.2" y="848.2" font-size="11.6" text-anchor="end" font-weight="normal" stroke="#000" stroke-width="0.6" font-family="Liberation Sans, sans-serif" >3.0</text>
<text x="114.2" y="821.7" font-size="11.6" text-anchor="end" font-weight="normal" stroke="#000" stroke-width="0.6" font-family="Liberation Sans, sans-serif" >3.5</text>
<text x="114.2" y="796.9" font-size="11.6" text-anchor="end" font-weight="normal" stroke="#000" stroke-width="0.6" font-family="Liberation Sans, sans-serif" >4.0</text>
<text x="114.2" y="770.4" font-size="11.6" text-anchor="end" font-weight="normal" stroke="#000" stroke-width="0.6" font-family="Liberation Sans, sans-serif" >4.5</text>
<text x="114.2" y="745.6" font-size="11.6" text-anchor="end" font-weight="normal" stroke="#000" stroke-width="0.6" font-family="Liberation Sans, sans-serif" >5.0</text>
<text x="126.5" y="1020.1" font-size="11.8" text-anchor="middle" font-weight="normal" stroke="#000" stroke-width="0.6" font-family="Liberation Sans, sans-serif" >$0</text>
<text x="163.5" y="1020.1" font-size="11.8" text-anchor="middle" font-weight="normal" stroke="#000" stroke-width="0.6" font-family="Liberation Sans, sans-serif" >$30</text>
<text x="200.4" y="1020.1" font-size="11.8" text-anchor="middle" font-weight="normal" stroke="#000" stroke-width="0.6" font-family="Liberation Sans, sans-serif" >$60</text>
<text x="237.4" y="1020.1" font-size="11.8" text-anchor="middle" font-weight="normal" stroke="#000" stroke-width="0.6" font-family="Liberation Sans, sans-serif" >$90</text>
<text x="274.4" y="1020.1" font-size="11.8" text-anchor="middle" font-weight="normal" stroke="#000" stroke-width="0.6" font-family="Liberation Sans, sans-serif" >$120</text>
<text x="311.4" y="1020.1" font-size="11.8" text-anchor="middle" font-weight="normal" stroke="#000" stroke-width="0.6" font-family="Liberation Sans, sans-serif" >$150</text>
<text x="348.4" y="1020.1" font-size="11.8" text-anchor="middle" font-weight="normal" stroke="#000" stroke-width="0.6" font-family="Liberation Sans, sans-serif" >$180</text>
<text x="391.6" y="1019.3" font-size="11.8" text-anchor="middle" font-weight="normal" stroke="#000" stroke-width="0.6" font-family="Liberation Sans, sans-serif" >$0</text>
<text x="428.2" y="1019.3" font-size="11.8" text-anchor="middle" font-weight="normal" stroke="#000" stroke-width="0.6" font-family="Liberation Sans, sans-serif" >$30</text>
<text x="464.7" y="1019.3" font-size="11.8" text-anchor="middle" font-weight="normal" stroke="#000" stroke-width="0.6" font-family="Liberation Sans, sans-serif" >$60</text>
<text x="501.3" y="1019.3" font-size="11.8" text-anchor="middle" font-weight="normal" stroke="#000" stroke-width="0.6" font-family="Liberation Sans, sans-serif" >$90</text>
<text x="537.8" y="1019.3" font-size="11.8" text-anchor="middle" font-weight="normal" stroke="#000" stroke-width="0.6" font-family="Liberation Sans, sans-serif" >$120</text>
<text x="574.4" y="1019.3" font-size="11.8" text-anchor="middle" font-weight="normal" stroke="#000" stroke-width="0.6" font-family="Liberation Sans, sans-serif" >$150</text>
<text x="610.9" y="1019.3" font-size="11.8" text-anchor="middle" font-weight="normal" stroke="#000" stroke-width="0.6" font-family="Liberation Sans, sans-serif" >$180</text>
<text transform="translate(79.9,178.8) rotate(-90)" font-size="13.7" text-anchor="middle" stroke="#000" stroke-width="0.3" font-family="Liberation Sans, sans-serif">Decreased antibiotic Rx (%)</text>
<text transform="translate(78.0,523.0) rotate(-90)" font-size="14.15" text-anchor="middle" stroke="#000" stroke-width="0.3" font-family="Liberation Sans, sans-serif">Decreased antibiotic duration (days)</text>
<text transform="translate(81.0,856.2) rotate(-90)" font-size="14.15" text-anchor="middle" stroke="#000" stroke-width="0.3" font-family="Liberation Sans, sans-serif">Decreased antibiotic duration (days)</text>
<text x="361.9" y="375.1" font-size="22.7" text-anchor="middle" font-weight="normal" stroke="#000" stroke-width="0.4" font-family="Liberation Sans, sans-serif" >Total antibiotic cost</text>
<text x="361.7" y="720.0" font-size="22.75" text-anchor="middle" font-weight="normal" stroke="#000" stroke-width="0.4" font-family="Liberation Sans, sans-serif" >Daily antibiotic cost</text>
<text x="367.3" y="1058.1" font-size="22.75" text-anchor="middle" font-weight="normal" stroke="#000" stroke-width="0.4" font-family="Liberation Sans, sans-serif" >Daily antibiotic cost</text>
<text x="-1.0" y="16.7" font-size="21.8" text-anchor="start" font-weight="normal" stroke="#000" stroke-width="0.4" font-family="Liberation Sans, sans-serif" letter-spacing="0.62">Nonadherence:</text>
<text x="165.3" y="16.7" font-size="21.8" text-anchor="start" font-weight="normal" stroke="#000" stroke-width="0.4" font-family="Liberation Sans, sans-serif" letter-spacing="0.55">Base case (36.3%)</text>
<text x="442.9" y="16.8" font-size="21.8" text-anchor="start" font-weight="normal" stroke="#000" stroke-width="0.4" font-family="Liberation Sans, sans-serif" letter-spacing="0.65">High (60%)</text>
<text x="-1.6" y="172.0" font-size="22.5" text-anchor="start" font-weight="bold" stroke="#000" stroke-width="0.05" font-family="Liberation Sans, sans-serif" >a</text>
<text x="-0.5" y="533.0" font-size="22.5" text-anchor="start" font-weight="bold" stroke="#000" stroke-width="0.05" font-family="Liberation Sans, sans-serif" >b</text>
<text x="0.0" y="869.7" font-size="22.5" text-anchor="start" font-weight="bold" stroke="#000" stroke-width="0.05" font-family="Liberation Sans, sans-serif" >c</text>
<text x="685.3" y="481.7" font-size="16.2" text-anchor="start" font-weight="normal" stroke="#000" stroke-width="0.45" font-family="Liberation Sans, sans-serif" textLength="29.8" lengthAdjust="spacingAndGlyphs">PCT</text>
<text x="719.9" y="481.7" font-size="16.2" text-anchor="start" font-weight="normal" stroke="#000" stroke-width="0.45" font-family="Liberation Sans, sans-serif" textLength="67.2" lengthAdjust="spacing">protocol</text>
<text x="685.1" y="518.4" font-size="16.2" text-anchor="start" font-weight="normal" stroke="#000" stroke-width="0.45" font-family="Liberation Sans, sans-serif" textLength="43.3" lengthAdjust="spacing">Usual</text>
<text x="734.4" y="518.4" font-size="16.2" text-anchor="start" font-weight="normal" stroke="#000" stroke-width="0.45" font-family="Liberation Sans, sans-serif" textLength="34.4" lengthAdjust="spacing">care</text>
</g>
</svg>
</body></html>
